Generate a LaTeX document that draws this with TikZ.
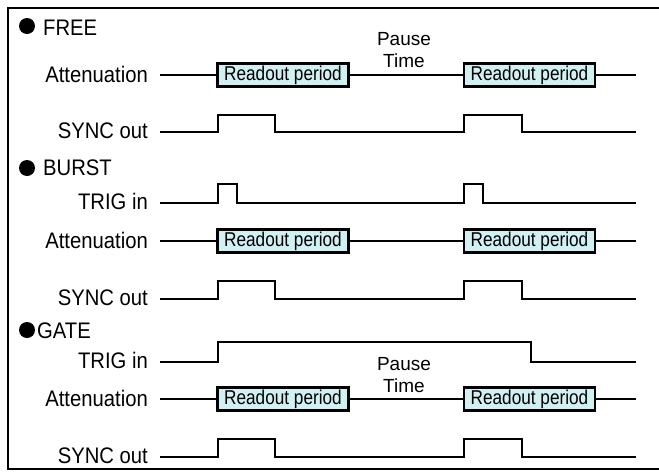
\documentclass[tikz,border=0pt]{standalone}
\usepackage{fontspec}
\setmainfont{Liberation Sans}
\newfontfamily\labfont[FakeStretch=0.9]{Liberation Sans}
\newfontfamily\boxfont[FakeStretch=0.86]{Liberation Sans}
\definecolor{cyanbox}{RGB}{208,240,242}
\begin{document}
\begin{tikzpicture}[x=1pt,y=-1pt,
  sig/.style={line width=2.6pt, line join=miter},
  readout/.style={draw, line width=2.6pt, fill=cyanbox, minimum width=131pt, minimum height=23.5pt, inner sep=0pt, font=\boxfont\fontsize{20}{22}\selectfont},
  lab/.style={anchor=base east, inner sep=0pt, font=\labfont\fontsize{22.5}{26}\selectfont},
  ttl/.style={anchor=base west, inner sep=0pt, font=\labfont\fontsize{22.5}{26}\selectfont},
  dot/.style={circle, fill=black, minimum size=16pt, inner sep=0pt},
  pause/.style={align=center, anchor=south, inner sep=0pt, font=\fontsize{19}{22}\selectfont}]
\useasboundingbox (0,0) rectangle (659,472);
\draw[line width=2.2pt] (662,8) -- (8,8) -- (8,469) -- (662,469);

% ---------- FREE ----------
\node[dot] (d1) at (27,26) {};
\node[ttl] (t1) at (43,35) {FREE};
\node[lab] (l1a) at (148,82) {Attenuation};
\coordinate (a1s) at (160,75); \coordinate (a1e) at (636,75);
\node[readout] (r1a) at (283,75) {Readout period};
\node[readout] (r1b) at (529.5,75) {Readout period};
\draw[sig] (a1s) -- (r1a.west);
\draw[sig] (r1a.east) -- (r1b.west);
\draw[sig] (r1b.east) -- (a1e);
\node[pause] (p1) at (404,68) {Pause\\Time};
\node[lab] (l1s) at (148,138) {SYNC out};
\draw[sig] (160,132) -- (218,132) -- (218,115) -- (275,115) -- (275,132) -- (464,132) -- (464,115) -- (522,115) -- (522,132) -- (636,132);

% ---------- BURST ----------
\node[dot] (d2) at (27,168) {};
\node[ttl] (t2) at (43,175) {BURST};
\node[lab] (l2t) at (148,209) {TRIG in};
\draw[sig] (160,203) -- (218,203) -- (218,184) -- (237,184) -- (237,203) -- (464,203) -- (464,184) -- (483,184) -- (483,203) -- (636,203);
\node[lab] (l2a) at (148,248) {Attenuation};
\coordinate (a2s) at (160,241); \coordinate (a2e) at (636,241);
\node[readout] (r2a) at (283,241) {Readout period};
\node[readout] (r2b) at (529.5,241) {Readout period};
\draw[sig] (a2s) -- (r2a.west);
\draw[sig] (r2a.east) -- (r2b.west);
\draw[sig] (r2b.east) -- (a2e);
\node[lab] (l2s) at (148,305) {SYNC out};
\draw[sig] (160,299) -- (218,299) -- (218,281) -- (275,281) -- (275,299) -- (464,299) -- (464,281) -- (522,281) -- (522,299) -- (636,299);

% ---------- GATE ----------
\node[dot] (d3) at (27,330) {};
\node[ttl] (t3) at (37,338) {GATE};
\node[lab] (l3t) at (148,368) {TRIG in};
\draw[sig] (160,362) -- (218,362) -- (218,342) -- (531,342) -- (531,362) -- (636,362);
\node[lab] (l3a) at (148,406) {Attenuation};
\coordinate (a3s) at (160,399); \coordinate (a3e) at (636,399);
\node[readout] (r3a) at (283,399) {Readout period};
\node[readout] (r3b) at (529.5,399) {Readout period};
\draw[sig] (a3s) -- (r3a.west);
\draw[sig] (r3a.east) -- (r3b.west);
\draw[sig] (r3b.east) -- (a3e);
\node[pause] (p3) at (404,393) {Pause\\Time};
\node[lab] (l3s) at (148,463) {SYNC out};
\draw[sig] (160,457) -- (218,457) -- (218,439) -- (275,439) -- (275,457) -- (464,457) -- (464,439) -- (522,439) -- (522,457) -- (636,457);
\end{tikzpicture}
\end{document}
